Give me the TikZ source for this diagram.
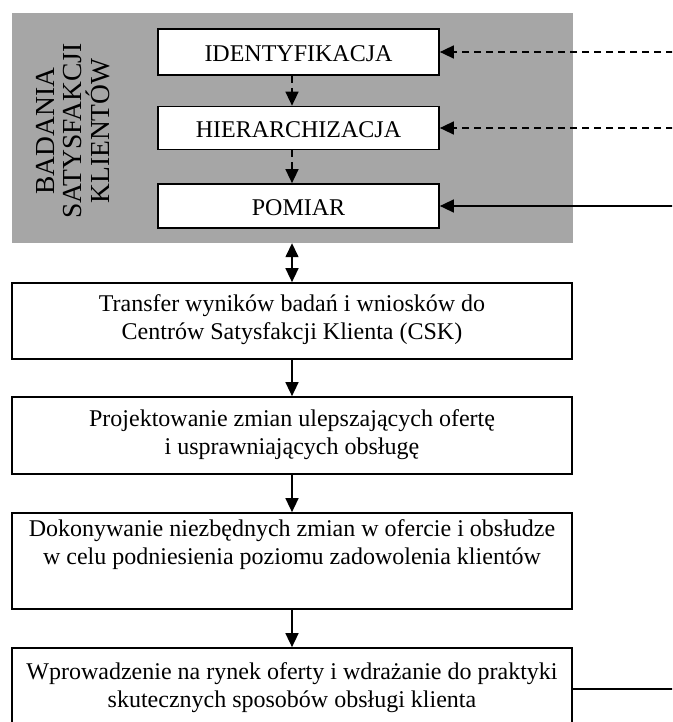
\documentclass[tikz,border=0pt]{standalone}
\usepackage{fontspec}
\setmainfont{Liberation Serif}
\usetikzlibrary{arrows.meta}
\definecolor{panelgray}{RGB}{166,166,166}
\tikzset{
  wbox/.style={draw=black, fill=white, line width=1.7pt, inner sep=0pt},
  txt/.style={align=center, font=\fontsize{24}{27.8}\selectfont, inner sep=0pt},
  vtxt/.style={align=center, font=\fontsize{27.5}{27.5}\selectfont, inner sep=0pt},
  conn/.style={line width=1.5pt, -{Triangle[width=13pt,length=14pt]}},
  dconn/.style={conn, dash pattern=on 7pt off 5pt},
}
\begin{document}
\begin{tikzpicture}[x=1pt,y=-1pt]
\useasboundingbox (0,0) rectangle (672,722);
\clip (0,0) rectangle (672,722);
% gray panel
\node[fill=panelgray, minimum width=561pt, minimum height=230pt, inner sep=0pt] (panel) at (292.5,128) {};
\node[vtxt, rotate=90] (paneltxt) at (73,131) {BADANIA\\SATYSFAKCJI\\KLIENTÓW};
% upper boxes
\node[wbox, minimum width=281pt, minimum height=46pt] (ident) at (298.5,52) {};
\node[txt] (identt) at (298.5,54) {IDENTYFIKACJA};
\node[wbox, minimum width=281pt, minimum height=43pt] (hier) at (298.5,128) {};
\node[txt] (hiert) at (298.5,130) {HIERARCHIZACJA};
\node[wbox, minimum width=281pt, minimum height=44pt] (pom) at (298.5,206) {};
\node[txt] (pomt) at (298.5,208) {POMIAR};
% lower boxes
\node[wbox, minimum width=560pt, minimum height=76pt] (tr) at (292,321) {};
\node[txt] (trt) at (292,320) {Transfer wyników badań i wniosków do\\Centrów Satysfakcji Klienta (CSK)};
\node[wbox, minimum width=560pt, minimum height=77pt] (pr) at (292,435.5) {};
\node[txt] (prt) at (292,434.5) {Projektowanie zmian ulepszających ofertę\\i usprawniających obsługę};
\node[wbox, minimum width=560pt, minimum height=96pt] (dk) at (292,561) {};
\node[txt] (dkt) at (292,544.5) {Dokonywanie niezbędnych zmian w ofercie i obsłudze\\w celu podniesienia poziomu zadowolenia klientów};
\node[wbox, minimum width=560pt, minimum height=82pt] (wp) at (292,689) {};
\node[txt] (wpt) at (292,688) {Wprowadzenie na rynek oferty i wdrażanie do praktyki\\skutecznych sposobów obsługi klienta};
% helper coordinates
\coordinate (ax) at (292,0);
\coordinate (r1) at (673,52);
\coordinate (r2) at (673,128);
\coordinate (r3) at (673,206);
\coordinate (r4) at (673,689);
% connectors
\draw[dconn] (r1) -- (ident.east);
\draw[dconn] (r2) -- (hier.east);
\draw[conn] (r3) -- (pom.east);
\draw[line width=1.5pt] (wp.east) -- (r4);
\draw[dconn] (ident.south -| ax) -- (hier.north -| ax);
\draw[dconn] (hier.south -| ax) -- (pom.north -| ax);
\draw[line width=1.5pt, {Triangle[width=13pt,length=14pt]}-{Triangle[width=13pt,length=14pt]}] (panel.south -| ax) -- (tr.north -| ax);
\draw[conn] (tr.south -| ax) -- (pr.north -| ax);
\draw[conn] (pr.south -| ax) -- (dk.north -| ax);
\draw[conn] (dk.south -| ax) -- (wp.north -| ax);
\end{tikzpicture}
\end{document}
